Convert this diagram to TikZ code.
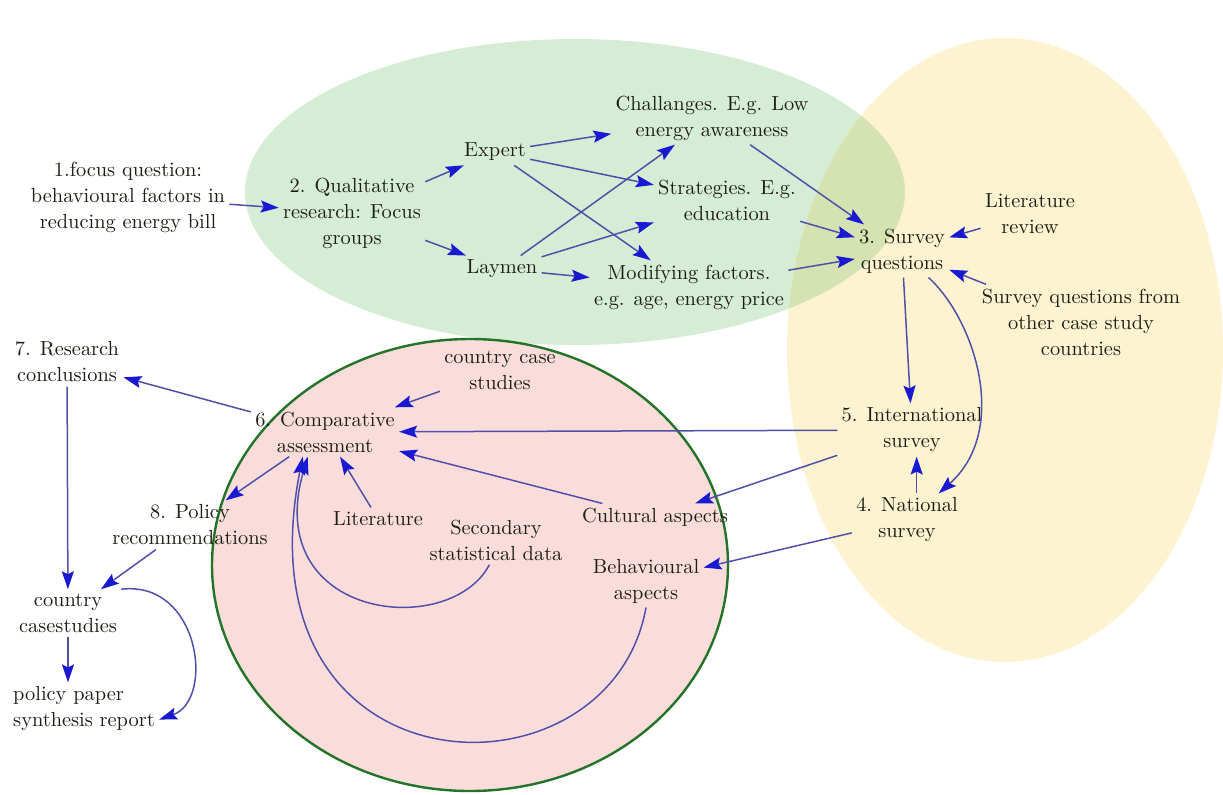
\documentclass[tikz,border=0pt]{standalone}
\usetikzlibrary{arrows.meta}

\definecolor{greenfill}{RGB}{213,236,213}
\definecolor{yellowfill}{RGB}{253,243,208}
\definecolor{overlapfill}{RGB}{213,226,178}
\definecolor{redfill}{RGB}{250,221,219}
\definecolor{rimgreen}{RGB}{35,115,40}
\definecolor{txtgrey}{RGB}{30,30,22}
\definecolor{linkblue}{RGB}{80,80,170}
\definecolor{headblue}{RGB}{25,25,210}

\begin{document}
\begin{tikzpicture}[x=0.5pt, y=-0.5pt,
    every node/.style = {align=center, inner sep=2pt, text=txtgrey, font=\fontsize{10.2}{13}\selectfont},
    link/.style = {draw=linkblue, line width=0.75pt, -{Stealth[length=9pt, width=6pt, inset=1.5pt, color=headblue]}}
    ]
    \useasboundingbox (0,0) rectangle (1223,794);
    \fill[greenfill] (575,192) ellipse [x radius=165pt, y radius=76.5pt];
    \fill[yellowfill] (1005,350) ellipse [x radius=109pt, y radius=156pt];
    \begin{scope}
        \clip (575,192) ellipse [x radius=165pt, y radius=76.5pt];
        \fill[overlapfill] (1005,350) ellipse [x radius=109pt, y radius=156pt];
    \end{scope}
    \filldraw[fill=redfill, draw=rimgreen, line width=1.2pt] (470,565) ellipse [x radius=129pt, y radius=113pt];

    \node (focus) at (128,197) {1.focus question:\\behavioural factors in\\reducing energy bill};
    \node (qual) at (352,213) {2. Qualitative\\research: Focus\\groups};
    \node (expert) at (495,152) {Expert};
    \node (laymen) at (502,269) {Laymen};
    \node (chall) at (712,118) {Challanges. E.g. Low\\energy awareness};
    \node (strat) at (727,200) {Strategies. E.g.\\education};
    \node (modif) at (689,287) {Modifying factors.\\e.g. age, energy price};
    \node (survq) at (902,251) {3. Survey\\questions};
    \node (litrev) at (1030,214) {Literature\\review};
    \node (otherq) at (1081,322) {Survey questions from\\other case study\\countries};
    \node (intl) at (912,430) {5. International\\survey};
    \node (natl) at (907,520) {4. National\\survey};
    \node (concl) at (67,362) {7. Research\\conclusions};
    \node (comp) at (325,432) {6. Comparative\\assessment};
    \node (ccase) at (500,370) {country case\\studies};
    \node (lit) at (378,519) {Literature};
    \node (secstat) at (496,540) {Secondary\\statistical data};
    \node (cult) at (655,517) {Cultural aspects};
    \node (behav) at (646,581) {Behavioural\\aspects};
    \node (policy) at (190,525) {8. Policy\\recommendations};
    \node (ccstud) at (68,613) {country\\casestudies};
    \node[align=left] (paper) at (84,709) {policy paper\\synthesis report};

    \draw[link] (focus) -- (qual);
    \draw[link] (qual) -- (expert);
    \draw[link] (qual) -- (laymen);
    \draw[link] (expert) -- (chall);
    \draw[link] (expert) -- (strat);
    \draw[link] (expert) -- (modif);
    \draw[link] (laymen) -- (chall);
    \draw[link] (laymen) -- (strat);
    \draw[link] (laymen) -- (modif);
    \draw[link] (chall) -- (survq);
    \draw[link] (strat) -- (survq);
    \draw[link] (modif) -- (survq);
    \draw[link] (litrev) -- (survq);
    \draw[link] (otherq) -- (survq);
    \draw[link] (survq) -- (intl);
    \draw[link] (survq.-45) .. controls (975,320) and (1010,430) .. (natl.40);
    \draw[link] (natl.70) -- (natl.70 |- intl.south);
    \draw[link] (intl) -- (comp);
    \draw[link] (intl) -- (cult);
    \draw[link] (natl) -- (behav);
    \draw[link] (cult) -- (comp);
    \draw[link] (ccase) -- (comp);
    \draw[link] (lit) -- (comp);
    \draw[link] (secstat.-105) .. controls (450,640) and (260,620) .. (comp.-125);
    \draw[link] (behav.south) .. controls (610,810) and (235,800) .. (comp.-132);
    \draw[link] (comp) -- (concl);
    \draw[link] (comp) -- (policy);
    \draw[link] (concl) -- (ccstud);
    \draw[link] (policy) -- (ccstud);
    \draw[link] (ccstud) -- (ccstud |- paper.north);
    \draw[link] (ccstud.north east) .. controls (200,580) and (215,700) .. (paper.-8);
\end{tikzpicture}
\end{document}
